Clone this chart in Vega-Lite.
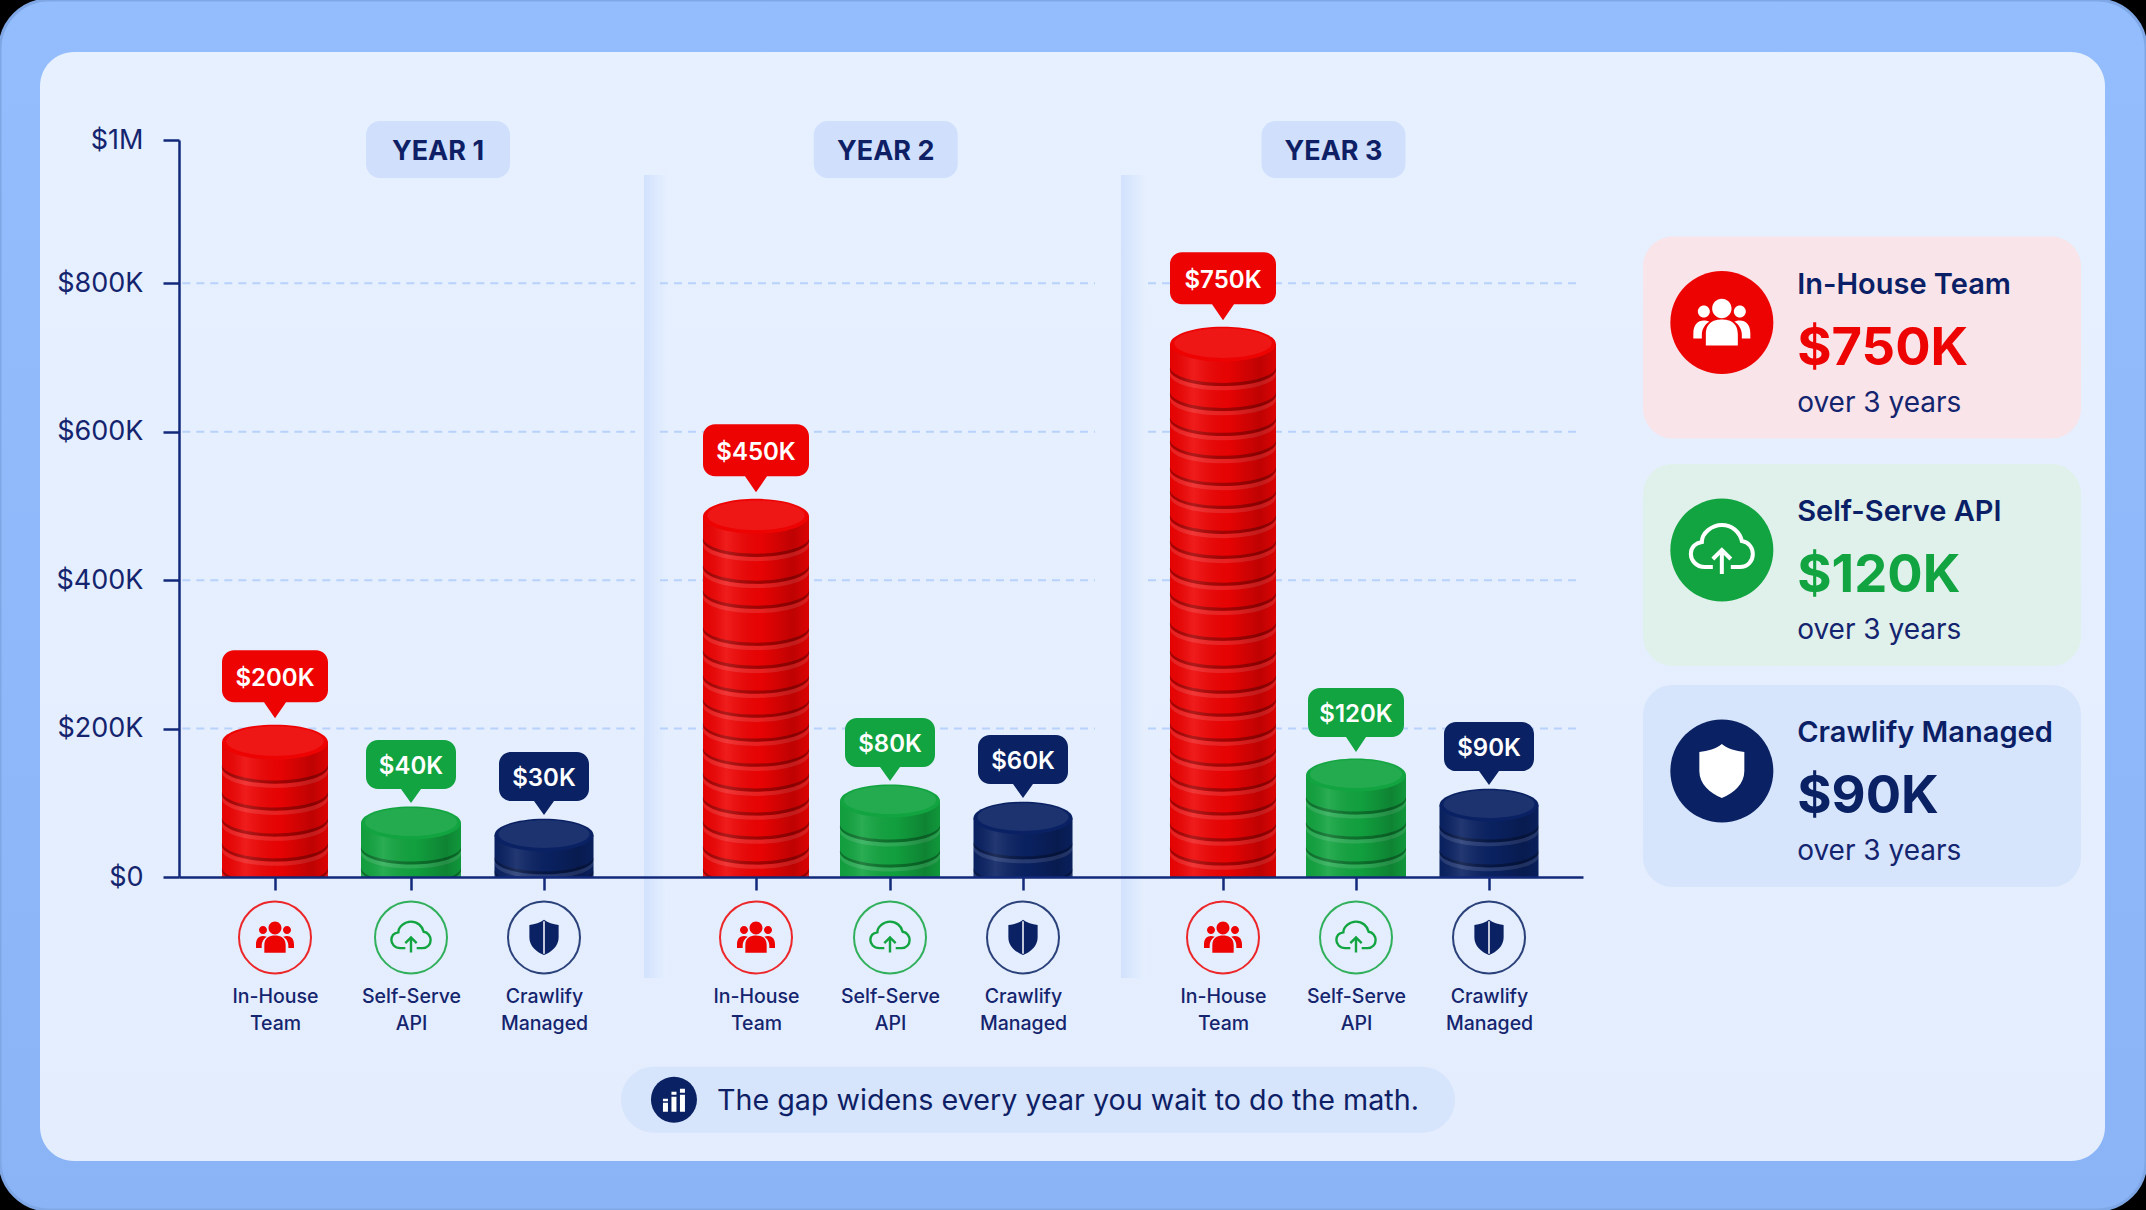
{
  "$schema": "https://vega.github.io/schema/vega-lite/v6.json",
  "description": "Three-year cost of an in-house team, a self-serve API and Crawlify Managed.",
  "width": 1404,
  "height": 737,
  "autosize": "none",
  "padding": {"left": 179, "top": 140, "right": 563, "bottom": 333},
  "background": "#000000",
  "config": {
    "view": {"stroke": null},
    "point": {"opacity": 1},
    "text": {"font": "Inter"}
  },
  "datasets": {
    "bars": [
      {"order": 1, "year": "Year 1", "plan": "In-House Team", "cost": 200000, "label": "$200K", "drawn": 181700},
      {"order": 2, "year": "Year 1", "plan": "Self-Serve API", "cost": 40000, "label": "$40K", "drawn": 72700},
      {"order": 3, "year": "Year 1", "plan": "Crawlify Managed", "cost": 30000, "label": "$30K", "drawn": 56500},
      {"order": 4, "year": "Year 2", "plan": "In-House Team", "cost": 450000, "label": "$450K", "drawn": 486000},
      {"order": 5, "year": "Year 2", "plan": "Self-Serve API", "cost": 80000, "label": "$80K", "drawn": 102300},
      {"order": 6, "year": "Year 2", "plan": "Crawlify Managed", "cost": 60000, "label": "$60K", "drawn": 79400},
      {"order": 7, "year": "Year 3", "plan": "In-House Team", "cost": 750000, "label": "$750K", "drawn": 718000},
      {"order": 8, "year": "Year 3", "plan": "Self-Serve API", "cost": 120000, "label": "$120K", "drawn": 137300},
      {"order": 9, "year": "Year 3", "plan": "Crawlify Managed", "cost": 90000, "label": "$90K", "drawn": 96900}
    ],
    "disks": [
      {"order": 1, "plan": "In-House Team", "edge": 150800},
      {"order": 1, "plan": "In-House Team", "edge": 114400},
      {"order": 1, "plan": "In-House Team", "edge": 79400},
      {"order": 1, "plan": "In-House Team", "edge": 45800},
      {"order": 1, "plan": "In-House Team", "edge": 12100},
      {"order": 2, "plan": "Self-Serve API", "edge": 40400},
      {"order": 2, "plan": "Self-Serve API", "edge": 12100},
      {"order": 3, "plan": "Crawlify Managed", "edge": 26900},
      {"order": 3, "plan": "Crawlify Managed", "edge": 9400},
      {"order": 4, "plan": "In-House Team", "edge": 456300},
      {"order": 4, "plan": "In-House Team", "edge": 420000},
      {"order": 4, "plan": "In-House Team", "edge": 386300},
      {"order": 4, "plan": "In-House Team", "edge": 336500},
      {"order": 4, "plan": "In-House Team", "edge": 305500},
      {"order": 4, "plan": "In-House Team", "edge": 271900},
      {"order": 4, "plan": "In-House Team", "edge": 239600},
      {"order": 4, "plan": "In-House Team", "edge": 207300},
      {"order": 4, "plan": "In-House Team", "edge": 173600},
      {"order": 4, "plan": "In-House Team", "edge": 140000},
      {"order": 4, "plan": "In-House Team", "edge": 107700},
      {"order": 4, "plan": "In-House Team", "edge": 75400},
      {"order": 4, "plan": "In-House Team", "edge": 41700},
      {"order": 4, "plan": "In-House Team", "edge": 12100},
      {"order": 5, "plan": "Self-Serve API", "edge": 70000},
      {"order": 5, "plan": "Self-Serve API", "edge": 36300},
      {"order": 6, "plan": "Crawlify Managed", "edge": 47100},
      {"order": 6, "plan": "Crawlify Managed", "edge": 12100},
      {"order": 7, "plan": "In-House Team", "edge": 686500},
      {"order": 7, "plan": "In-House Team", "edge": 652800},
      {"order": 7, "plan": "In-House Team", "edge": 619200},
      {"order": 7, "plan": "In-House Team", "edge": 588200},
      {"order": 7, "plan": "In-House Team", "edge": 551900},
      {"order": 7, "plan": "In-House Team", "edge": 520900},
      {"order": 7, "plan": "In-House Team", "edge": 487300},
      {"order": 7, "plan": "In-House Team", "edge": 453600},
      {"order": 7, "plan": "In-House Team", "edge": 417300},
      {"order": 7, "plan": "In-House Team", "edge": 383600},
      {"order": 7, "plan": "In-House Team", "edge": 343200},
      {"order": 7, "plan": "In-House Team", "edge": 305500},
      {"order": 7, "plan": "In-House Team", "edge": 271900},
      {"order": 7, "plan": "In-House Team", "edge": 240900},
      {"order": 7, "plan": "In-House Team", "edge": 207300},
      {"order": 7, "plan": "In-House Team", "edge": 173600},
      {"order": 7, "plan": "In-House Team", "edge": 140000},
      {"order": 7, "plan": "In-House Team", "edge": 107700},
      {"order": 7, "plan": "In-House Team", "edge": 72700},
      {"order": 7, "plan": "In-House Team", "edge": 40400},
      {"order": 8, "plan": "Self-Serve API", "edge": 107700},
      {"order": 8, "plan": "Self-Serve API", "edge": 74000},
      {"order": 8, "plan": "Self-Serve API", "edge": 40400},
      {"order": 9, "plan": "Crawlify Managed", "edge": 70000},
      {"order": 9, "plan": "Crawlify Managed", "edge": 36300}
    ],
    "ticks": [{"tick": 200000}, {"tick": 400000}, {"tick": 600000}, {"tick": 800000}],
    "years": [{"year": "YEAR 1"}, {"year": "YEAR 2"}, {"year": "YEAR 3"}],
    "cards": [
      {"rank": 1, "plan": "In-House Team", "total": "$750K", "span": "over 3 years"},
      {"rank": 2, "plan": "Self-Serve API", "total": "$120K", "span": "over 3 years"},
      {"rank": 3, "plan": "Crawlify Managed", "total": "$90K", "span": "over 3 years"}
    ],
    "caption": [{"note": "The gap widens every year you wait to do the math."}]
  },
  "resolve": {"scale": {"x": "independent", "y": "independent"}},
  "layer": [
    {
      "data": {"values": [{"part": "outer"}]},
      "mark": {
        "type": "point",
        "filled": true,
        "size": 4,
        "shape": "M-832,-508.5 H1216 A49,49 0 0 1 1265,-459.5 V652.5 A49,49 0 0 1 1216,701.5 H-832 A49,49 0 0 1 -881,652.5 V-459.5 A49,49 0 0 1 -832,-508.5 Z",
        "color": {"gradient": "linear", "x1": 0, "y1": 0, "x2": 0, "y2": 1, "stops": [{"offset": 0, "color": "#93BDFC"}, {"offset": 1, "color": "#8AB4F6"}]},
        "stroke": "#7FA7E6",
        "strokeWidth": 3
      },
      "encoding": {}
    },
    {
      "data": {"values": [{"part": "inner"}]},
      "mark": {
        "type": "point",
        "filled": true,
        "size": 4,
        "shape": "M-807,-456.5 H1190 A34,34 0 0 1 1224,-422.5 V618.5 A34,34 0 0 1 1190,652.5 H-807 A34,34 0 0 1 -841,618.5 V-422.5 A34,34 0 0 1 -807,-456.5 Z",
        "color": {"gradient": "linear", "x1": 0, "y1": 0, "x2": 0, "y2": 1, "stops": [{"offset": 0, "color": "#E6F0FF"}, {"offset": 1, "color": "#E3EDFD"}]}
      },
      "encoding": {}
    },
    {
      "data": {"name": "years"},
      "encoding": {
        "x": {"field": "year", "type": "ordinal", "axis": null, "scale": {"type": "point", "padding": 0, "domain": ["YEAR 1", "YEAR 2", "YEAR 3"], "range": [259, 1154.5]}},
        "y": {"datum": 986700, "type": "quantitative", "axis": null, "scale": {"domain": [0, 800000, 1000000], "range": [737, 143.3, 0], "nice": false, "zero": false}}
      },
      "layer": [
        {"mark": {"type": "point", "filled": true, "size": 4, "color": "#D0E0FC", "shape": "M-58,-28.5 H58 A14,14 0 0 1 72,-14.5 V14.5 A14,14 0 0 1 58,28.5 H-58 A14,14 0 0 1 -72,14.5 V-14.5 A14,14 0 0 1 -58,-28.5 Z"}},
        {"mark": {"type": "text", "fontSize": 27, "fontWeight": 700, "color": "#0E1F66", "baseline": "middle", "dy": 2.5}, "encoding": {"text": {"field": "year"}}}
      ]
    },
    {
      "layer": [
        {
          "data": {"values": [{"part": "gap"}]},
          "mark": {"type": "rect", "color": {"gradient": "linear", "x1": 0, "y1": 0, "x2": 1, "y2": 0, "stops": [{"offset": 0, "color": "#D2E2FD"}, {"offset": 1, "color": "#E5EFFE"}]}},
          "encoding": {"x": {"datum": 3.472, "type": "quantitative", "title": null}, "x2": {"datum": 3.58}, "y": {"datum": 951000, "type": "quantitative", "title": null}, "y2": {"datum": -136000}}
        },
        {
          "data": {"values": [{"part": "gap"}]},
          "mark": {"type": "rect", "color": {"gradient": "linear", "x1": 0, "y1": 0, "x2": 1, "y2": 0, "stops": [{"offset": 0, "color": "#D2E2FD"}, {"offset": 1, "color": "#E5EFFE"}]}},
          "encoding": {"x": {"datum": 6.49, "type": "quantitative", "title": null}, "x2": {"datum": 6.61}, "y": {"datum": 951000, "type": "quantitative", "title": null}, "y2": {"datum": -136000}}
        },
        {
          "data": {"name": "ticks"},
          "mark": {"type": "rule", "color": "#B8D2FB", "strokeWidth": 2, "strokeDash": [8, 6]},
          "encoding": {"x": {"datum": 0, "type": "quantitative", "title": null}, "x2": {"datum": 3.43}, "y": {"field": "tick", "type": "quantitative", "title": null}}
        },
        {
          "data": {"name": "ticks"},
          "mark": {"type": "rule", "color": "#B8D2FB", "strokeWidth": 2, "strokeDash": [8, 6]},
          "encoding": {"x": {"datum": 3.547, "type": "quantitative", "title": null}, "x2": {"datum": 6.36}, "y": {"field": "tick", "type": "quantitative", "title": null}}
        },
        {
          "data": {"name": "ticks"},
          "mark": {"type": "rule", "color": "#B8D2FB", "strokeWidth": 2, "strokeDash": [8, 6]},
          "encoding": {"x": {"datum": 6.625, "type": "quantitative", "title": null}, "x2": {"datum": 10}, "y": {"field": "tick", "type": "quantitative", "title": null}}
        },
        {
          "data": {"name": "bars"},
          "resolve": {"scale": {"size": "independent"}},
          "encoding": {
            "x": {
              "field": "order",
              "type": "quantitative",
              "title": null,
              "scale": {"domain": [0, 1, 2, 3, 4, 5, 6, 7, 8, 9, 10], "range": [0, 96, 232, 365, 577, 711, 844, 1044, 1177, 1310, 1404], "nice": false, "zero": false},
              "axis": {
                "values": [1, 2, 3, 4, 5, 6, 7, 8, 9],
                "zindex": 1,
                "grid": false,
                "domainColor": "#12297A",
                "domainWidth": 2.5,
                "tickColor": "#12297A",
                "tickWidth": 2.5,
                "tickSize": 13,
                "labelFont": "Inter",
                "labelFontSize": 19.5,
                "labelFontWeight": 500,
                "labelColor": "#14246E",
                "labelPadding": 97,
                "labelBaseline": "top",
                "labelLineHeight": 27,
                "labelOverlap": false,
                "labelFlush": false,
                "labelBound": false,
                "labelExpr": "split(['In-House|Team','Self-Serve|API','Crawlify|Managed'][(datum.value-1)%3],'|')"
              }
            },
            "y": {
              "field": "drawn",
              "type": "quantitative",
              "title": null,
              "scale": {"domain": [0, 800000, 1000000], "range": [737, 143.3, 0], "nice": false, "zero": false},
              "axis": {
                "values": [0, 200000, 400000, 600000, 800000, 1000000],
                "zindex": 1,
                "grid": false,
                "domainColor": "#12297A",
                "domainWidth": 2.5,
                "tickColor": "#12297A",
                "tickWidth": 2.5,
                "tickSize": 16,
                "labelFont": "Inter",
                "labelFontSize": 27,
                "labelColor": "#14246E",
                "labelPadding": 20,
                "labelOverlap": false,
                "labelBound": false,
                "labelFlush": false,
                "labelExpr": "datum.value>=1000000?'$1M':datum.value==0?'$0':'$'+datum.value/1000+'K'"
              }
            }
          },
          "layer": [
            {
              "mark": {"type": "bar", "orient": "vertical"},
              "encoding": {
                "y2": {"datum": 0},
                "size": {"field": "plan", "type": "nominal", "legend": null, "scale": {"type": "ordinal", "domain": ["In-House Team", "Self-Serve API", "Crawlify Managed"], "range": [106, 100, 99]}},
                "color": {"field": "plan", "type": "nominal", "legend": null, "scale": {"domain": ["In-House Team", "Self-Serve API", "Crawlify Managed"], "range": ["#EE0303", "#12A440", "#0A2263"]}}
              }
            },
            {
              "data": {"name": "disks"},
              "mark": {"type": "point", "filled": true, "clip": true, "color": "#000000", "fillOpacity": 0.3, "shape": "M-50,0 A50,15 0 0 0 50,-1 L50,3 A50,16 0 0 1 -50,0 Z"},
              "encoding": {
                "y": {"field": "edge", "type": "quantitative"},
                "size": {"field": "plan", "type": "nominal", "legend": null, "scale": {"type": "ordinal", "domain": ["In-House Team", "Self-Serve API", "Crawlify Managed"], "range": [4.49, 4, 3.92]}}
              }
            },
            {
              "data": {"name": "disks"},
              "mark": {"type": "point", "filled": true, "clip": true, "color": "#FFFFFF", "fillOpacity": 0.12, "shape": "M-50,3 A50,15 0 0 0 50,2 L50,6 A50,15 0 0 1 -50,7 Z"},
              "encoding": {
                "y": {"field": "edge", "type": "quantitative"},
                "size": {"field": "plan", "type": "nominal", "legend": null, "scale": {"type": "ordinal", "domain": ["In-House Team", "Self-Serve API", "Crawlify Managed"], "range": [4.49, 4, 3.92]}}
              }
            },
            {
              "mark": {
                "type": "bar",
                "orient": "vertical",
                "color": {"gradient": "linear", "x1": 0, "y1": 0, "x2": 1, "y2": 0, "stops": [
                  {"offset": 0, "color": "rgba(0,0,0,0.04)"},
                  {"offset": 0.22, "color": "rgba(255,255,255,0.1)"},
                  {"offset": 0.55, "color": "rgba(0,0,0,0.03)"},
                  {"offset": 0.85, "color": "rgba(0,0,0,0.2)"},
                  {"offset": 1, "color": "rgba(0,0,0,0.08)"}
                ]}
              },
              "encoding": {
                "y2": {"datum": 0},
                "size": {"field": "plan", "type": "nominal", "legend": null, "scale": {"type": "ordinal", "domain": ["In-House Team", "Self-Serve API", "Crawlify Managed"], "range": [106, 100, 99]}}
              }
            },
            {
              "mark": {"type": "point", "filled": true, "shape": "M-50,0 A50,16.5 0 1 1 50,0 A50,16.5 0 1 1 -50,0 Z"},
              "encoding": {
                "size": {"field": "plan", "type": "nominal", "legend": null, "scale": {"type": "ordinal", "domain": ["In-House Team", "Self-Serve API", "Crawlify Managed"], "range": [4.49, 4, 3.92]}},
                "color": {"field": "plan", "type": "nominal", "legend": null}
              }
            },
            {
              "mark": {"type": "point", "filled": true, "color": "#FFFFFF", "fillOpacity": 0.08, "shape": "M-46,-1 A46,14 0 1 1 46,-1 A46,14 0 1 1 -46,-1 Z"},
              "encoding": {
                "size": {"field": "plan", "type": "nominal", "legend": null, "scale": {"type": "ordinal", "domain": ["In-House Team", "Self-Serve API", "Crawlify Managed"], "range": [4.49, 4, 3.92]}}
              }
            },
            {
              "transform": [{"filter": "datum.cost >= 200000"}],
              "mark": {"type": "point", "filled": true, "size": 4, "shape": "M-41,-92 H41 A12,12 0 0 1 53,-80 V-52 A12,12 0 0 1 41,-40 H11 L0,-24 L-11,-40 H-41 A12,12 0 0 1 -53,-52 V-80 A12,12 0 0 1 -41,-92 Z"},
              "encoding": {"color": {"field": "plan", "type": "nominal", "legend": null}}
            },
            {
              "transform": [{"filter": "datum.cost >= 200000"}],
              "mark": {"type": "text", "fontSize": 24, "fontWeight": 600, "color": "#FFFFFF", "baseline": "middle", "dy": -63.5},
              "encoding": {"text": {"field": "label"}}
            },
            {
              "transform": [{"filter": "datum.cost == 120000"}],
              "mark": {"type": "point", "filled": true, "size": 4, "shape": "M-36,-87 H36 A12,12 0 0 1 48,-75 V-50 A12,12 0 0 1 36,-38 H10 L0,-23 L-10,-38 H-36 A12,12 0 0 1 -48,-50 V-75 A12,12 0 0 1 -36,-87 Z"},
              "encoding": {"color": {"field": "plan", "type": "nominal", "legend": null}}
            },
            {
              "transform": [{"filter": "datum.cost == 120000"}],
              "mark": {"type": "text", "fontSize": 24, "fontWeight": 600, "color": "#FFFFFF", "baseline": "middle", "dy": -60},
              "encoding": {"text": {"field": "label"}}
            },
            {
              "transform": [{"filter": "datum.cost < 120000"}],
              "mark": {"type": "point", "filled": true, "size": 4, "shape": "M-33,-83 H33 A12,12 0 0 1 45,-71 V-46 A12,12 0 0 1 33,-34 H10 L0,-20 L-10,-34 H-33 A12,12 0 0 1 -45,-46 V-71 A12,12 0 0 1 -33,-83 Z"},
              "encoding": {"color": {"field": "plan", "type": "nominal", "legend": null}}
            },
            {
              "transform": [{"filter": "datum.cost < 120000"}],
              "mark": {"type": "text", "fontSize": 24, "fontWeight": 600, "color": "#FFFFFF", "baseline": "middle", "dy": -56},
              "encoding": {"text": {"field": "label"}}
            },
            {
              "mark": {"type": "point", "shape": "circle", "size": 5184, "filled": false, "strokeWidth": 2, "strokeOpacity": 0.85},
              "encoding": {
                "y": {"datum": -81400},
                "color": {"field": "plan", "type": "nominal", "legend": null}
              }
            },
            {
              "transform": [{"filter": "datum.plan == 'In-House Team'"}],
              "mark": {"type": "point", "filled": true, "size": 1.78, "color": "#EE0303", "shape": "M-9.7,-14 a9.7,9.7 0 1 0 19.4,0 a9.7,9.7 0 1 0 -19.4,0 Z M-16,23 L-16,12 C-16,0 -8,-3 0,-3 C8,-3 16,0 16,12 L16,23 Z M-24,-11 a6,6 0 1 0 12,0 a6,6 0 1 0 -12,0 Z M12,-11 a6,6 0 1 0 12,0 a6,6 0 1 0 -12,0 Z M-28.5,16 L-28.5,11 C-28.5,2 -24,-2 -18,-2 C-16,-2 -14,-1.5 -12.5,-1 C-17,2 -20,7 -20,12 L-20,16 Z M28.5,16 L28.5,11 C28.5,2 24,-2 18,-2 C16,-2 14,-1.5 12.5,-1 C17,2 20,7 20,12 L20,16 Z"},
              "encoding": {"y": {"datum": -81400}}
            },
            {
              "transform": [{"filter": "datum.plan == 'Self-Serve API'"}],
              "mark": {"type": "point", "filled": false, "size": 1.6, "color": "#12A440", "strokeWidth": 2.4, "shape": "M-9,17 L-17,17 C-26,17 -31,10 -31,4 C-31,-3 -26,-7 -20,-8 C-20,-17 -10,-25 0,-25 C10,-25 18,-18 20,-9 C27,-8 31,-2 31,4 C31,11 26,17 18,17 L9,17 M0,24 L0,1 M-9,9 L0,0 L9,9"},
              "encoding": {"y": {"datum": -81400}}
            },
            {
              "transform": [{"filter": "datum.plan == 'Crawlify Managed'"}],
              "mark": {"type": "point", "filled": true, "size": 1.69, "color": "#0A2263", "shape": "M0,-27 C6,-22 14,-20 22.5,-19 L22.5,0 C22.5,13 12,22 0,27 C-12,22 -22.5,13 -22.5,0 L-22.5,-19 C-14,-20 -6,-22 0,-27 Z"},
              "encoding": {"y": {"datum": -81400}}
            },
            {
              "transform": [{"filter": "datum.plan == 'Crawlify Managed'"}],
              "mark": {"type": "point", "filled": false, "size": 1.69, "color": "#FFFFFF", "strokeWidth": 1.5, "shape": "M0,-25 L0,25"},
              "encoding": {"y": {"datum": -81400}}
            }
          ]
        },
        {
          "data": {"name": "caption"},
          "mark": {"type": "point", "filled": true, "size": 4, "color": "#D6E4FC", "shape": "M-384,-33 H384 A33,33 0 0 1 384,33 H-384 A33,33 0 0 1 -384,-33 Z"},
          "encoding": {"x": {"datum": 6.075, "type": "quantitative", "title": null}, "y": {"datum": -300000, "type": "quantitative", "title": null}}
        },
        {
          "data": {"name": "caption"},
          "mark": {"type": "point", "shape": "circle", "filled": true, "size": 2116, "color": "#0A2263"},
          "encoding": {"x": {"datum": 3.613, "type": "quantitative", "title": null}, "y": {"datum": -300000, "type": "quantitative", "title": null}}
        },
        {
          "data": {"name": "caption"},
          "mark": {"type": "point", "filled": true, "size": 4, "color": "#FFFFFF", "shape": "M-11,3 H-6 V12 H-11 Z M-2.5,-3 H2.5 V12 H-2.5 Z M6,-5 H11 V12 H6 Z M-11,-1 H-6 V1.5 H-11 Z M-2.5,-8 H2.5 V-5 H-2.5 Z M6,-11 H11 V-7 H6 Z"},
          "encoding": {"x": {"datum": 3.613, "type": "quantitative", "title": null}, "y": {"datum": -300000, "type": "quantitative", "title": null}}
        },
        {
          "data": {"name": "caption"},
          "mark": {"type": "text", "fontSize": 28.7, "color": "#0E1F66", "align": "left", "baseline": "middle", "dy": 1},
          "encoding": {"x": {"datum": 3.816, "type": "quantitative", "title": null}, "y": {"datum": -300000, "type": "quantitative", "title": null}, "text": {"field": "note"}}
        }
      ]
    },
    {
      "data": {"name": "cards"},
      "encoding": {
        "x": {"datum": 0.5, "type": "quantitative", "axis": null, "scale": {"domain": [0, 1], "range": [1464, 1902], "nice": false, "zero": false}},
        "y": {"field": "rank", "type": "quantitative", "axis": null, "scale": {"domain": [1, 2, 3], "range": [197.5, 425, 646], "nice": false, "zero": false}}
      },
      "layer": [
        {
          "mark": {"type": "point", "filled": true, "size": 4, "shape": "M-189,-101 H189 A30,30 0 0 1 219,-71 V71 A30,30 0 0 1 189,101 H-189 A30,30 0 0 1 -219,71 V-71 A30,30 0 0 1 -189,-101 Z"},
          "encoding": {"fill": {"field": "plan", "type": "nominal", "legend": null, "scale": {"domain": ["In-House Team", "Self-Serve API", "Crawlify Managed"], "range": ["#F8E4E9", "#E0F1EC", "#D6E4FC"]}}}
        },
        {
          "mark": {"type": "point", "shape": "circle", "filled": true, "size": 10609, "yOffset": -15},
          "encoding": {"x": {"datum": 0.18}, "color": {"field": "plan", "type": "nominal", "legend": null, "scale": {"domain": ["In-House Team", "Self-Serve API", "Crawlify Managed"], "range": ["#EE0303", "#12A440", "#0A2263"]}}}
        },
        {
          "transform": [{"filter": "datum.rank == 1"}],
          "mark": {"type": "point", "filled": true, "size": 4, "color": "#FFFFFF", "yOffset": -15, "shape": "M-9.7,-14 a9.7,9.7 0 1 0 19.4,0 a9.7,9.7 0 1 0 -19.4,0 Z M-16,23 L-16,12 C-16,0 -8,-3 0,-3 C8,-3 16,0 16,12 L16,23 Z M-24,-11 a6,6 0 1 0 12,0 a6,6 0 1 0 -12,0 Z M12,-11 a6,6 0 1 0 12,0 a6,6 0 1 0 -12,0 Z M-28.5,16 L-28.5,11 C-28.5,2 -24,-2 -18,-2 C-16,-2 -14,-1.5 -12.5,-1 C-17,2 -20,7 -20,12 L-20,16 Z M28.5,16 L28.5,11 C28.5,2 24,-2 18,-2 C16,-2 14,-1.5 12.5,-1 C17,2 20,7 20,12 L20,16 Z"},
          "encoding": {"x": {"datum": 0.18}}
        },
        {
          "transform": [{"filter": "datum.rank == 2"}],
          "mark": {"type": "point", "filled": false, "size": 4, "color": "#FFFFFF", "strokeWidth": 4, "yOffset": -15, "shape": "M-9,17 L-17,17 C-26,17 -31,10 -31,4 C-31,-3 -26,-7 -20,-8 C-20,-17 -10,-25 0,-25 C10,-25 18,-18 20,-9 C27,-8 31,-2 31,4 C31,11 26,17 18,17 L9,17 M0,24 L0,1 M-9,9 L0,0 L9,9"},
          "encoding": {"x": {"datum": 0.18}}
        },
        {
          "transform": [{"filter": "datum.rank == 3"}],
          "mark": {"type": "point", "filled": true, "size": 4, "color": "#FFFFFF", "yOffset": -15, "shape": "M0,-27 C6,-22 14,-20 22.5,-19 L22.5,0 C22.5,13 12,22 0,27 C-12,22 -22.5,13 -22.5,0 L-22.5,-19 C-14,-20 -6,-22 0,-27 Z"},
          "encoding": {"x": {"datum": 0.18}}
        },
        {
          "mark": {"type": "text", "fontSize": 29, "fontWeight": 600, "color": "#0B1F66", "align": "left", "baseline": "middle", "dy": -53},
          "encoding": {"x": {"datum": 0.352}, "text": {"field": "plan"}}
        },
        {
          "mark": {"type": "text", "fontSize": 52.5, "fontWeight": 700, "align": "left", "baseline": "middle", "dy": 11},
          "encoding": {"x": {"datum": 0.352}, "text": {"field": "total"}, "color": {"field": "plan", "type": "nominal", "legend": null}}
        },
        {
          "mark": {"type": "text", "fontSize": 28, "color": "#14246E", "align": "left", "baseline": "middle", "dy": 66},
          "encoding": {"x": {"datum": 0.352}, "text": {"field": "span"}}
        }
      ]
    }
  ]
}
